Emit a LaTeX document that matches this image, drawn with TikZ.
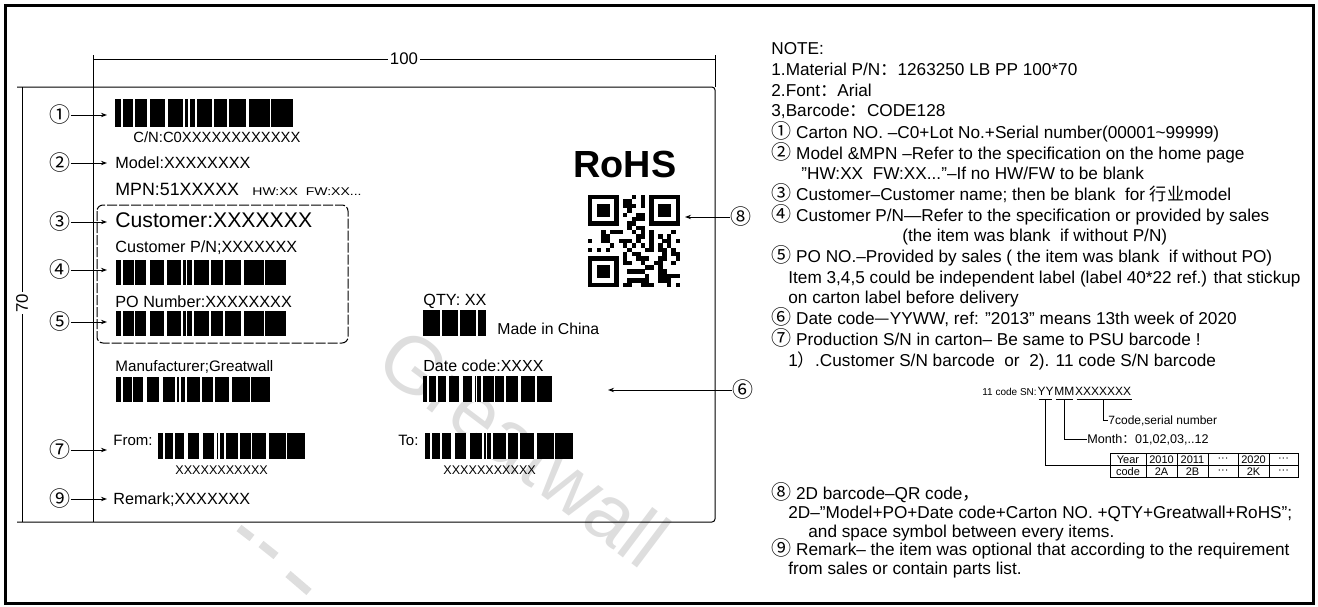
\documentclass[tikz,border=0pt]{standalone}
\usepackage{fontspec}
\setmainfont{Liberation Sans}
\newfontfamily\cjk{Noto Sans CJK SC}
\usetikzlibrary{arrows.meta,calc}
\newcommand{\fs}[1]{\fontsize{#1}{#1}\selectfont}
\newcommand{\cn}[1]{{\cjk\fs{10}#1}}
\newcommand{\mybarcode}[4]{%
  \fill (#1,#2) rectangle (#3,#4);
  \foreach \f/\w in {0.032/2,0.103/1.6,0.178/3.4,0.280/3.4,0.383/2.2,0.41/1.6,0.449/1.6,0.547/1.6,0.631/1.6,0.734/3.4,0.869/1.6}{%
    \fill[white] ({#1+\f*(#3-#1)},#2) rectangle ({#1+\f*(#3-#1)+\w},#4);}%
}
\newcommand{\mybarcodeq}[4]{%
  \fill (#1,#2) rectangle (#3,#4);
  \foreach \f/\w in {0.27/2.4,0.55/2.6,0.84/2.2}{%
    \fill[white] ({#1+\f*(#3-#1)},#2) rectangle ({#1+\f*(#3-#1)+\w},#4);}%
}
\begin{document}
\begin{tikzpicture}[x=0.5pt,y=-0.5pt,
  every node/.style={inner sep=0pt},
  txt/.style={anchor=base west},
  cnum/.style={font=\cjk\fs{10.5}},
  ptr/.style={line width=0.5pt,-{Stealth[length=3pt,width=2.2pt]}},
  lw/.style={line width=0.5pt},
  dimtxt/.style={font=\fs{8.4},fill=white,inner sep=1pt},
  note/.style={anchor=base west,font=\fs{8.6}},
  cell/.style={font=\fs{5.5}},
  wmark/.style={text=black!13},
]
\useasboundingbox (0,0) rectangle (1318,606);

% watermark
\node[wmark,anchor=base west,rotate=-37,font=\fs{40}] (wm) at (372,368) {Greatwall};
\draw[black!13,line width=4pt] (239,528) -- (252,538);
\draw[black!13,line width=4pt] (261,544) -- (276,556);
\draw[black!13,line width=4pt] (288,574) -- (309,592);

% outer frame
\draw[line width=1.5pt] (5,5) rectangle (1313,603);

% label outline and dimensions
\draw[lw] (93,55) -- (93,522);
\draw[lw] (715,55) -- (715,87);
\draw[lw,rounded corners=1.5pt] (17,87) -- (715,87) -- (715,522) -- (17,522);
\draw[lw] (93,59) -- (715,59);
\node[dimtxt] (d100) at (404,59) {100};
\draw[lw] (22,87) -- (22,522);
\node[dimtxt,rotate=90] (d70) at (22,303) {70};

% label contents
\mybarcode{115}{99}{293}{127}
\node[txt,font=\fs{7.4}] (cnr) at (133,142) {C/N:C0XXXXXXXXXXXX};
\node[txt,font=\fs{8.1}] (model) at (115,168) {Model:XXXXXXXX};
\node[txt,font=\fs{8.9}] (mpn) at (115,195) {MPN:51XXXXX};
\node[txt,font=\fs{5.6}] (hw) at (252,195) {\scalebox{1.25}[1]{HW:XX\ \ FW:XX...}};
\draw[lw,dash pattern=on 5pt off 1pt,rounded corners=3pt] (97,205) rectangle (348,343);
\node[txt,font=\fs{10.6}] (cust) at (115,227) {Customer:XXXXXXX};
\node[txt,font=\fs{8.1}] (cpn) at (115,252) {Customer P/N;XXXXXXX};
\mybarcode{116}{260}{286}{285}
\node[txt,font=\fs{8.1}] (po) at (115,307) {PO Number:XXXXXXXX};
\mybarcode{116}{311}{286}{336}
\node[txt,font=\fs{7.6}] (mfr) at (115,371) {Manufacturer;Greatwall};
\mybarcode{116}{377}{270}{402}
\node[txt,font=\fs{7.5}] (from) at (113,445) {From:};
\mybarcode{158}{433}{305}{459}
\node[txt,font=\fs{6.3}] (fromx) at (175,474) {XXXXXXXXXXX};
\node[txt,font=\fs{7.5}] (to) at (398,445) {To:};
\mybarcode{425}{433}{573}{459}
\node[txt,font=\fs{6.3}] (tox) at (443,474) {XXXXXXXXXXX};
\node[txt,font=\fs{8.1}] (rem) at (113,504) {Remark;XXXXXXX};
\node[txt,font=\bfseries\fs{18.9}] (rohs) at (573,177) {RoHS};
\node[txt,font=\fs{8.1}] (qty) at (423,305) {QTY: XX};
\mybarcodeq{423}{310}{486}{336}
\node[txt,font=\fs{7.9}] (mic) at (497,334) {Made in China};
\node[txt,font=\fs{8}] (dc) at (423,371) {Date code:XXXX};
\mybarcode{423}{376}{552}{402}

% QR code
\begin{scope}[shift={(588,195)}]
\pgfmathsetseed{3}
\foreach \i in {0,...,20}{\foreach \j in {0,...,20}{%
  \pgfmathtruncatemacro\qv{(((\i<8)&&(\j<8))||((\i>12)&&(\j<8))||((\i<8)&&(\j>12))) ? 0 : ((rnd<0.5) ? 1 : 0)}%
  \ifnum\qv=1 \fill (\i*4.38,\j*4.38) rectangle ++(4.45,4.45);\fi
}}
\foreach \a/\b in {0/0,14/0,0/14}{
  \fill (\a*4.38,\b*4.38) rectangle ++(30.66,30.66);
  \fill[white] (\a*4.38+4.38,\b*4.38+4.38) rectangle ++(21.9,21.9);
  \fill (\a*4.38+8.76,\b*4.38+8.76) rectangle ++(13.14,13.14);
}
\end{scope}

% callout numbers
\node[cnum] (c1) at (60,115) {①};
\node[cnum] (c2) at (60,163) {②};
\node[cnum] (c3) at (60,222) {③};
\node[cnum] (c4) at (60,270) {④};
\node[cnum] (c5) at (60,322) {⑤};
\node[cnum] (c7) at (60,450) {⑦};
\node[cnum] (c9) at (60,499) {⑨};
\node[cnum] (c8) at (741,217) {⑧};
\node[cnum] (c6) at (743,390) {⑥};
\coordinate (p1) at (107,115);
\coordinate (p2) at (107,163);
\coordinate (p3) at (107,222);
\coordinate (p4) at (107,270);
\coordinate (p5) at (107,322);
\coordinate (p7) at (107,450);
\coordinate (p9) at (107,499);
\coordinate (p8) at (685,217);
\coordinate (p6) at (608,390);
\foreach \k in {1,2,3,4,5,7,9} \draw[ptr] (c\k.east) -- (p\k);
\draw[ptr] (c8.west) -- (p8);
\draw[ptr] (c6.west) -- (p6);

% notes
\node[note] (n0) at (771,54) {NOTE:};
\node[note] (n1) at (771,75) {1.Material P/N{\cjk ：}1263250 LB PP 100*70};
\node[note] (n2) at (771,96) {2.Font{\cjk ：}Arial};
\node[note] (n3) at (771,116) {3,Barcode{\cjk ：}CODE128};
\node[note] (n4) at (771,138) {\cn{①} Carton NO. –C0+Lot No.+Serial number(00001\textasciitilde 99999)};
\node[note] (n5) at (771,159) {\cn{②} Model \&MPN –Refer to the specification on the home page};
\node[note] (n6) at (801,179) {"HW:XX\ \ FW:XX..."–If no HW/FW to be blank};
\node[note] (n7) at (771,200) {\cn{③} Customer–Customer name; then be blank\ \ for {\cjk 行业}model};
\node[note] (n8) at (771,221) {\cn{④} Customer P/N—Refer to the specification or provided by sales};
\node[note] (n9) at (902,241) {(the item was blank\ \ if without P/N)};
\node[note] (n10) at (771,262) {\cn{⑤} PO NO.–Provided by sales ( the item was blank\ \ if without PO)};
\node[note] (n11) at (788,283) {Item 3,4,5 could be independent label (label 40*22 ref.) that stickup};
\node[note] (n12) at (788,303) {on carton label before delivery};
\node[note] (n13) at (771,324) {\cn{⑥} Date code{\cjk —}YYWW, ref: "2013" means 13th week of 2020};
\node[note] (n14) at (771,345) {\cn{⑦} Production S/N in carton– Be same to PSU barcode !};
\node[note] (n15) at (788,366) {1{\cjk ）}.Customer S/N barcode\ \ or\ \ 2). 11 code S/N barcode};
\node[note] (n16) at (771,499) {\cn{⑧} 2D barcode–QR code{\cjk ，}};
\node[note] (n17) at (788,518) {2D–"Model+PO+Date code+Carton NO. +QTY+Greatwall+RoHS";};
\node[note] (n18) at (808,537) {and space symbol between every items.};
\node[note] (n19) at (771,555) {\cn{⑨} Remark– the item was optional that according to the requirement};
\node[note] (n20) at (788,574) {from sales or contain parts list.};

% 11 code SN breakdown
\node[note,font=\fs{5}] (sn0) at (982,395) {11 code SN:\ };
\node[note,font=\fs{6}] (snY) at (sn0.base east) {YY};
\node[note,font=\fs{6}] (snM) at (snY.base east) {MM};
\node[note,font=\fs{6}] (snX) at (snM.base east) {XXXXXXX};
\draw[lw] ([shift={(2,4)}]snY.south west) -- ([shift={(-2,4)}]snY.south east);
\draw[lw] ([shift={(2,4)}]snM.south west) -- ([shift={(-2,4)}]snM.south east);
\draw[lw] ([shift={(2,4)}]snX.south west) -- ([shift={(0,4)}]snX.south east);
\node[note,font=\fs{6}] (sev) at (1108,424) {7code,serial number};
\node[note,font=\fs{6.3}] (month) at (1087,443) {Month{\cjk ：}01,02,03,..12};
\coordinate (ty) at (1110,465);
\draw[lw] ([shift={(0,4)}]snX.south) |- (sev.west);
\draw[lw] ([shift={(0,4)}]snM.south) |- (month.west);
\draw[lw] ([shift={(0,4)}]snY.south) |- (ty);

% year/code table
\draw[lw] (1110,453) rectangle (1298,477);
\draw[lw] (1110,465) -- (1298,465);
\foreach \x in {1146,1177,1208,1238,1269} \draw[lw] (\x,453) -- (\x,477);
\node[cell] (ta1) at (1128,459.5) {Year};
\node[cell] (ta2) at (1161.5,459.5) {2010};
\node[cell] (ta3) at (1192.5,459.5) {2011};
\node[cell] (ta4) at (1223,459.5) {···};
\node[cell] (ta5) at (1253.5,459.5) {2020};
\node[cell] (ta6) at (1283.5,459.5) {···};
\node[cell] (tb1) at (1128,471.5) {code};
\node[cell] (tb2) at (1161.5,471.5) {2A};
\node[cell] (tb3) at (1192.5,471.5) {2B};
\node[cell] (tb4) at (1223,471.5) {···};
\node[cell] (tb5) at (1253.5,471.5) {2K};
\node[cell] (tb6) at (1283.5,471.5) {···};
\end{tikzpicture}
\end{document}
